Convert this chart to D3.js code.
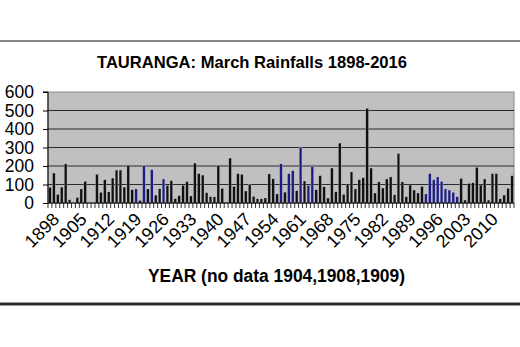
<!DOCTYPE html>
<html><head><meta charset="utf-8">
<script src="https://cdn.jsdelivr.net/npm/d3@7"></script>
<style>
html,body{margin:0;padding:0;background:#fff;}
svg{display:block;font-family:"Liberation Sans",Arial,sans-serif;}
</style></head>
<body>
<svg id="chart" width="520" height="347"></svg>
<script>
const years = d3.range(1898, 2017);
const rainfall = [
 85,162,47,86,212,18,null,30,76,117,null,null,155,58,126,60,135,178,178,86,
 204,72,76,14,202,76,180,43,77,130,95,121,24,40,96,116,38,216,159,151,
 56,35,33,203,79,4,243,90,159,155,65,101,36,23,23,27,157,131,49,212,
 59,159,175,67,301,119,95,198,72,148,88,27,189,61,324,47,103,168,76,126,
 137,512,189,54,114,81,130,141,45,267,114,34,97,70,54,90,49,159,126,141,
 117,76,70,58,34,133,16,106,110,193,97,130,16,159,159,23,43,79,148
];
const blueYears = [1920,1922,1924,1927,1957,1959,1960,1962,1964,1965,1994,1995,1996,1997,1998,1999,2000,2001,2002];
const yTicks = [0,100,200,300,400,500,600];
const xLabelYears = d3.range(1898, 2011, 7);
const title = "TAURANGA: March Rainfalls 1898-2016";
const xTitle = "YEAR (no data 1904,1908,1909)";

const svg = d3.select("#chart");
const L = 48, R = 514, T = 92, B = 203;

// frame lines
svg.append("line").attr("x1",0).attr("x2",520).attr("y1",41).attr("y2",41)
  .attr("stroke","#111").attr("stroke-width",1.2);
svg.append("rect").attr("x",0).attr("y",302).attr("width",520).attr("height",4).attr("fill","#9a9a9a");
svg.append("line").attr("x1",0).attr("x2",520).attr("y1",304).attr("y2",304)
  .attr("stroke","#000").attr("stroke-width",1.6);

const x = d3.scaleBand().domain(years).range([L, R]).paddingInner(0.3).paddingOuter(0.15);
const y = d3.scaleLinear().domain([0, 600]).range([B, T]);

// plot background
svg.append("rect").attr("x",L).attr("y",T).attr("width",R-L).attr("height",B-T)
  .attr("fill","#c0c0c0").attr("stroke","#8a8a8a").attr("stroke-width",1);

// gridlines
svg.append("g").selectAll("line").data(yTicks.filter(d=>d>0 && d<600)).join("line")
  .attr("x1",L).attr("x2",R).attr("y1",d=>y(d)).attr("y2",d=>y(d))
  .attr("stroke","#2a2a2a").attr("stroke-width",1.1);

// bars
svg.append("g").selectAll("rect").data(years.map((yr,i)=>({yr,v:rainfall[i]})).filter(d=>d.v!=null)).join("rect")
  .attr("x",d=>x(d.yr)).attr("width",x.bandwidth())
  .attr("y",d=>y(d.v)).attr("height",d=>B-y(d.v))
  .attr("fill",d=>blueYears.includes(d.yr)?"#1c1c82":"#111")
  .attr("stroke","#dcdcdc").attr("stroke-width",0.3);

// y axis
const yAxis = d3.axisLeft(y).tickValues(yTicks).tickSize(5).tickPadding(9);
const gy = svg.append("g").attr("transform",`translate(${L},0)`).call(yAxis);
gy.select(".domain").attr("stroke","#000").attr("d",`M-5,${T}H0V${B}`);
gy.selectAll(".tick line").attr("stroke","#000");
gy.selectAll("text").attr("font-size",17.5).attr("fill","#000").attr("font-family","Liberation Sans, Arial, sans-serif");

// x axis: ticks at each category boundary
const gx = svg.append("g");
gx.append("line").attr("x1",L).attr("x2",R).attr("y1",B).attr("y2",B).attr("stroke","#000").attr("stroke-width",1.2);
gx.selectAll("line.tk").data(d3.range(years.length+1)).join("line").attr("class","tk")
  .attr("x1",i=>L + (R-L)*i/years.length).attr("x2",i=>L + (R-L)*i/years.length)
  .attr("y1",B).attr("y2",B+5).attr("stroke","#000").attr("stroke-width",0.8);
gx.selectAll("text").data(xLabelYears).join("text")
  .attr("transform",d=>`translate(${x(d)+x.bandwidth()/2+6},${B+13}) rotate(-45)`)
  .attr("text-anchor","end").attr("dy","0.35em")
  .attr("font-size",18).attr("fill","#000").text(d=>d);

// titles
svg.append("text").attr("x",252).attr("y",68).attr("text-anchor","middle")
  .attr("font-size",16.5).attr("font-weight","bold").attr("textLength",310).attr("lengthAdjust","spacingAndGlyphs")
  .text(title);
svg.append("text").attr("x",276.5).attr("y",282).attr("text-anchor","middle")
  .attr("font-size",17.5).attr("font-weight","bold").attr("textLength",257).attr("lengthAdjust","spacingAndGlyphs")
  .text(xTitle);
</script>
</body></html>
